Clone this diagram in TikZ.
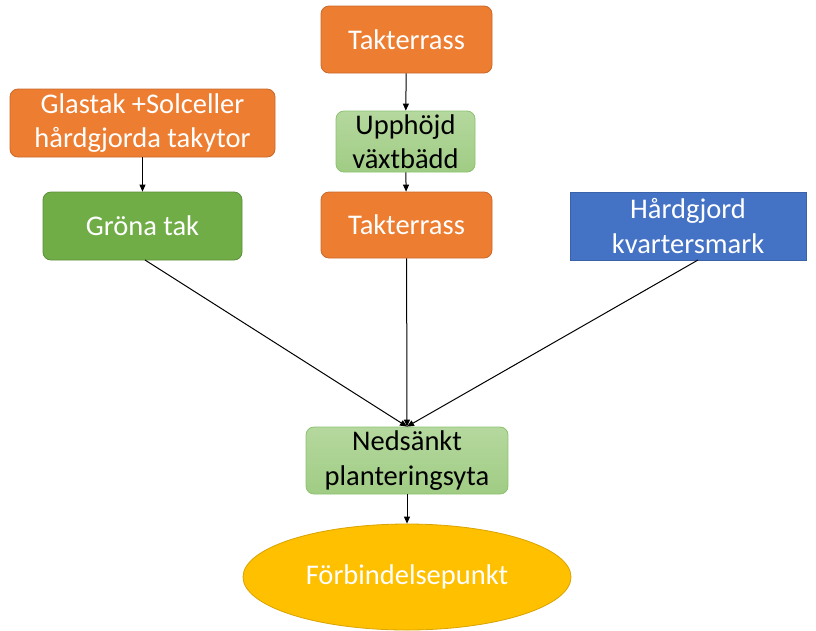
\documentclass[tikz,border=0pt]{standalone}
\usepackage{fontspec}
\setmainfont{Carlito}
\usepackage{tikz}
\usetikzlibrary{shapes,arrows.meta}

\definecolor{orangebox}{HTML}{ED7D31}
\definecolor{orangeline}{HTML}{C8692A}
\definecolor{greenbox}{HTML}{70AD47}
\definecolor{greenline}{HTML}{5A8F38}
\definecolor{lighttop}{HTML}{B5D89E}
\definecolor{lightbot}{HTML}{A0CC84}
\definecolor{lightline}{HTML}{8CC26E}
\definecolor{bluebox}{HTML}{4472C4}
\definecolor{blueline}{HTML}{3A62A8}
\definecolor{yellowbox}{HTML}{FFC000}
\definecolor{yellowline}{HTML}{D9A300}

\begin{document}
\begin{tikzpicture}[x=1pt,y=-1pt,->,>={Triangle[length=7pt,width=6pt]},line width=1pt]
\tikzstyle{every node}=[align=center,font=\fontsize{28.5}{34.5}\selectfont,inner sep=0pt,line width=0.8pt]
\tikzstyle{roof}=[rounded corners=8pt,draw=orangeline,fill=orangebox,text=white]
\tikzstyle{greenroof}=[rounded corners=8pt,draw=greenline,fill=greenbox,text=white]
\tikzstyle{bed}=[rounded corners=8pt,draw=lightline,top color=lighttop,bottom color=lightbot,text=black]
\tikzstyle{ground}=[draw=blueline,fill=bluebox,text=white]
\tikzstyle{outlet}=[ellipse,draw=yellowline,fill=yellowbox,text=white]
\useasboundingbox (0,0) rectangle (816,630);
% boxes
\node[roof,minimum width=171pt,minimum height=67pt] (terr1) at (406.5,39.5) {Takterrass};
\node[roof,minimum width=265pt,minimum height=68pt] (glas) at (142.5,123) {Glastak +Solceller\\hårdgjorda takytor};
\node[bed,minimum width=139pt,minimum height=61pt] (upph) at (405.5,141.5) {Upphöjd\\växtbädd};
\node[greenroof,minimum width=199pt,minimum height=68pt] (grona) at (142.5,226) {Gröna tak};
\node[roof,minimum width=171pt,minimum height=66pt] (terr2) at (406.5,225) {Takterrass};
\node[ground,minimum width=236pt,minimum height=68pt] (mark) at (688,226) {Hårdgjord\\kvartersmark};
\node[bed,minimum width=202pt,minimum height=67pt] (neds) at (407,460.5) {Nedsänkt\\planteringsyta};
\node[outlet,minimum width=328pt,minimum height=106pt] (punkt) at (407,577) {Förbindelsepunkt};
% connectors
\coordinate (gronaut) at (145,260);
\coordinate (markut) at (698,260);
\draw (terr1) -- (upph);
\draw (upph) -- (terr2);
\draw (glas) -- (grona);
\draw (gronaut) -- (neds.north);
\draw (terr2) -- (neds.north);
\draw (markut) -- (neds.north);
\draw (neds) -- (punkt);
\end{tikzpicture}
\end{document}
